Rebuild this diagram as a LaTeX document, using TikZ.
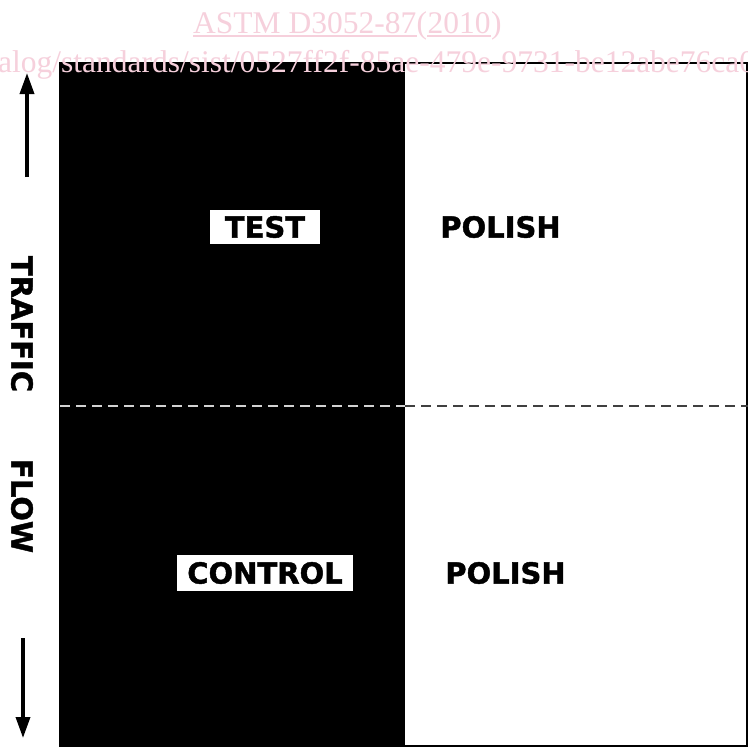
\documentclass[tikz,border=0pt]{standalone}
\usepackage{fontspec}
\usepackage{tikz}
\usetikzlibrary{arrows.meta}
\newfontfamily\lblfont{DejaVu Sans Bold}[FakeBold=1.5]
\newfontfamily\wmfont{Liberation Serif}
\definecolor{wmpink}{RGB}{246,208,220}

\begin{document}
\begin{tikzpicture}[x=1pt,y=-1pt,
  lbl/.style={font=\lblfont\fontsize{29}{34}\selectfont, inner sep=0pt},
  tag/.style={lbl, fill=white, inner sep=0pt},
  wm/.style={font=\wmfont\fontsize{31.5}{36}\selectfont, text=wmpink, inner sep=0pt, anchor=base west},
  flowarrow/.style={line width=3.5pt, -{Triangle[length=21pt,width=14pt]}}]
\useasboundingbox (0,0) rectangle (748,748);
\clip (0,0) rectangle (748,748);
\fill[white] (0,0) rectangle (748,748);

% test strip and polish strip
\fill[black] (60,63) rectangle (405,746);
\draw[line width=2.5pt] (60,63) rectangle (747,746);

% divider
\coordinate (dl) at (60,406);
\coordinate (dm) at (405,406);
\coordinate (dr) at (748,406);
\draw[line width=2pt, gray!35, dash pattern=on 10pt off 6pt] (dl) -- (dm);
\draw[line width=2pt, black!75, dash pattern=on 10pt off 6pt] (dm) -- (dr);

% labels
\node[tag, minimum width=110pt, minimum height=34pt] (test) at (265,227) {TEST};
\node[tag, minimum width=176pt, minimum height=36pt] (control) at (265,573) {CONTROL};
\node[lbl] (polishA) at (500.5,227) {POLISH};
\node[lbl] (polishB) at (505.5,573) {POLISH};

% traffic direction
\node[lbl, rotate=-90] (traffic) at (22,324) {TRAFFIC};
\node[lbl, rotate=-90] (flow) at (22,506) {FLOW};
\coordinate (upS) at (27,177);
\coordinate (upE) at (27,73);
\coordinate (dnS) at (23,638);
\coordinate (dnE) at (23,738);
\draw[flowarrow] (upS) -- (upE);
\draw[flowarrow] (dnS) -- (dnE);

% watermark
\node[wm] (wmA) at (193,33) {ASTM D3052-87};
\node[wm] (wmB) at (wmA.base east) {(};
\node[wm] (wmC) at (wmB.base east) {2010};
\node[wm] (wmD) at (wmC.base east) {)};
\draw[wmpink, line width=1.5pt] ([yshift=-3pt]wmA.base west) -- ([yshift=-3pt]wmA.base east);
\draw[wmpink, line width=1.5pt] ([yshift=-3pt]wmC.base west) -- ([yshift=-3pt]wmC.base east);
\node[wm] (wmE) at (-2,72) {alog/standards/sist/0527ff2f-85ae-479e-9731-be12abe76ca0};
\end{tikzpicture}
\end{document}
